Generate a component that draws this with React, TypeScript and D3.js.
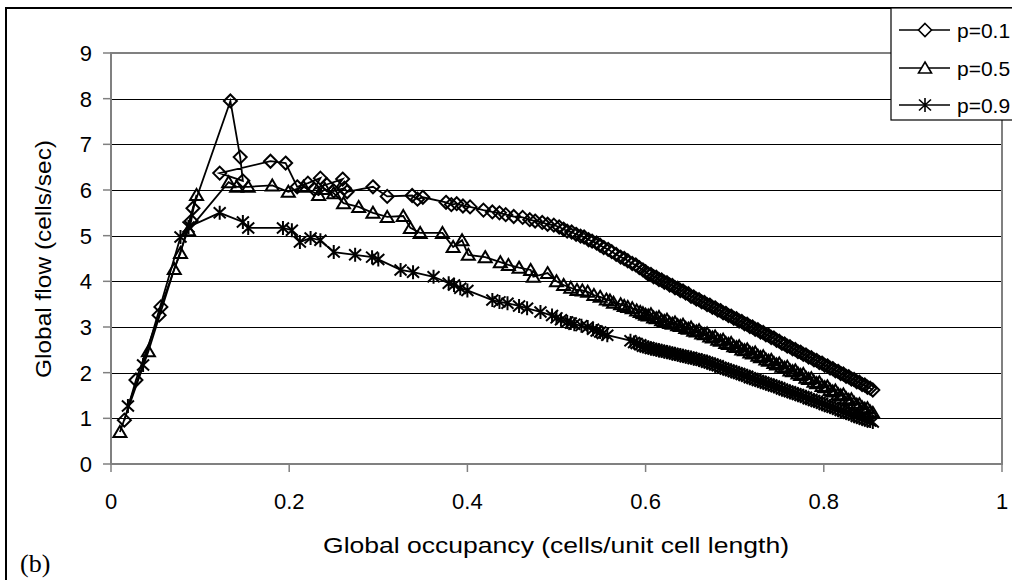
import React from 'react'
import * as d3 from 'd3'

// global occupancy (x) vs global flow (y): sparse part of each run as [x, y] pairs
const p01Head: [number, number][] = [
  [0.015, 0.96], [0.028, 1.84], [0.054, 3.26], [0.056, 3.44], [0.09, 5.32], [0.092, 5.6],
  [0.134, 7.95], [0.145, 6.72], [0.148, 6.2], [0.122, 6.37], [0.179, 6.63], [0.196, 6.59],
  [0.209, 6.07], [0.221, 6.15], [0.235, 6.26], [0.228, 6.02], [0.242, 6.12], [0.26, 6.24],
  [0.25, 5.98], [0.262, 6.04], [0.265, 5.96], [0.294, 6.07], [0.31, 5.86], [0.338, 5.88],
  [0.344, 5.8], [0.35, 5.84], [0.376, 5.73], [0.382, 5.68], [0.388, 5.7], [0.395, 5.65],
  [0.403, 5.63], [0.418, 5.56], [0.428, 5.52], [0.436, 5.5], [0.443, 5.46], [0.452, 5.42],
  [0.462, 5.4], [0.47, 5.35], [0.476, 5.32], [0.484, 5.29], [0.49, 5.25], [0.497, 5.23],
  [0.503, 5.19], [0.508, 5.14], [0.512, 5.1], [0.517, 5.08], [0.522, 5.03], [0.527, 4.99],
  [0.531, 4.97], [0.536, 4.91], [0.54, 4.88], [0.545, 4.84], [0.549, 4.79], [0.553, 4.74],
  [0.558, 4.7], [0.562, 4.65], [0.567, 4.59], [0.572, 4.53], [0.576, 4.5], [0.58, 4.45],
  [0.585, 4.39], [0.589, 4.36], [0.593, 4.3], [0.597, 4.25],
]

const p05Head: [number, number][] = [
  [0.01, 0.7], [0.042, 2.47], [0.071, 4.27], [0.078, 4.62], [0.096, 5.89], [0.087, 5.12],
  [0.132, 6.17], [0.141, 6.07], [0.154, 6.07], [0.181, 6.1], [0.199, 5.96], [0.216, 6.07],
  [0.233, 5.89], [0.24, 6.02], [0.25, 5.93], [0.261, 5.71], [0.278, 5.63], [0.294, 5.5],
  [0.31, 5.41], [0.328, 5.43], [0.336, 5.17], [0.347, 5.06], [0.372, 5.06], [0.384, 4.75],
  [0.394, 4.9], [0.401, 4.58], [0.42, 4.53], [0.437, 4.42], [0.446, 4.36], [0.458, 4.3],
  [0.471, 4.25], [0.474, 4.1], [0.49, 4.18], [0.5, 4.0], [0.508, 3.92], [0.516, 3.86],
  [0.523, 3.81], [0.529, 3.8], [0.535, 3.77], [0.542, 3.7], [0.549, 3.66], [0.556, 3.6],
  [0.56, 3.58], [0.564, 3.53], [0.572, 3.5], [0.576, 3.46], [0.58, 3.44], [0.585, 3.41],
  [0.59, 3.36], [0.594, 3.33], [0.597, 3.3],
]

const p09Head: [number, number][] = [
  [0.019, 1.27], [0.036, 2.17], [0.078, 4.97], [0.087, 5.19], [0.122, 5.5], [0.148, 5.3],
  [0.154, 5.17], [0.193, 5.17], [0.203, 5.12], [0.212, 4.86], [0.224, 4.95], [0.235, 4.9],
  [0.25, 4.64], [0.274, 4.58], [0.293, 4.53], [0.3, 4.48], [0.325, 4.25], [0.339, 4.2],
  [0.362, 4.1], [0.379, 3.96], [0.385, 3.92], [0.392, 3.85], [0.4, 3.8], [0.428, 3.59],
  [0.436, 3.55], [0.445, 3.52], [0.458, 3.46], [0.467, 3.41], [0.482, 3.33], [0.495, 3.25],
  [0.5, 3.2], [0.505, 3.16], [0.512, 3.11], [0.516, 3.09], [0.52, 3.06], [0.528, 3.03],
  [0.535, 3.0], [0.541, 2.95], [0.545, 2.91], [0.549, 2.89], [0.552, 2.86], [0.557, 2.82],
  [0.583, 2.7], [0.587, 2.66], [0.59, 2.64], [0.594, 2.61], [0.597, 2.58],
]

// dense part of each run: shared occupancy steps, then flow per series
const tailOcc = [
  0.6, 0.603, 0.606, 0.609, 0.612, 0.615, 0.618, 0.621, 0.624, 0.627,
  0.63, 0.633, 0.636, 0.639, 0.642, 0.645, 0.648, 0.651, 0.654, 0.657,
  0.66, 0.663, 0.666, 0.669, 0.672, 0.675, 0.678, 0.681, 0.684, 0.687,
  0.69, 0.693, 0.696, 0.699, 0.702, 0.705, 0.708, 0.711, 0.714, 0.717,
  0.72, 0.723, 0.726, 0.729, 0.732, 0.735, 0.738, 0.741, 0.744, 0.747,
  0.75, 0.753, 0.756, 0.759, 0.762, 0.765, 0.768, 0.771, 0.774, 0.777,
  0.78, 0.783, 0.786, 0.789, 0.792, 0.795, 0.798, 0.801, 0.804, 0.807,
  0.81, 0.813, 0.816, 0.819, 0.822, 0.825, 0.828, 0.831, 0.834, 0.837,
  0.84, 0.843, 0.846, 0.849, 0.852, 0.855,
]

const p01Tail = [
  4.21, 4.16, 4.15, 4.1, 4.09, 4.04, 4.03, 3.98, 3.97, 3.92,
  3.91, 3.86, 3.85, 3.8, 3.79, 3.74, 3.73, 3.67, 3.66, 3.61,
  3.6, 3.55, 3.54, 3.49, 3.48, 3.43, 3.42, 3.37, 3.36, 3.31,
  3.3, 3.25, 3.24, 3.19, 3.18, 3.13, 3.12, 3.07, 3.06, 3.01,
  3.0, 2.95, 2.94, 2.89, 2.88, 2.83, 2.82, 2.77, 2.76, 2.71,
  2.69, 2.64, 2.63, 2.58, 2.57, 2.52, 2.51, 2.46, 2.45, 2.4,
  2.39, 2.34, 2.33, 2.28, 2.27, 2.22, 2.21, 2.16, 2.15, 2.1,
  2.09, 2.04, 2.03, 1.98, 1.97, 1.92, 1.91, 1.86, 1.85, 1.8,
  1.79, 1.74, 1.73, 1.68, 1.66, 1.62,
]

const p05Tail = [
  3.27, 3.25, 3.28, 3.21, 3.19, 3.22, 3.15, 3.13, 3.16, 3.09,
  3.07, 3.1, 3.04, 3.02, 3.05, 2.98, 2.96, 2.99, 2.92, 2.9,
  2.93, 2.86, 2.84, 2.86, 2.79, 2.77, 2.79, 2.72, 2.7, 2.72,
  2.65, 2.63, 2.65, 2.58, 2.56, 2.58, 2.51, 2.49, 2.51, 2.44,
  2.42, 2.44, 2.37, 2.34, 2.36, 2.29, 2.26, 2.28, 2.21, 2.18,
  2.2, 2.13, 2.11, 2.13, 2.05, 2.03, 2.05, 1.98, 1.95, 1.97,
  1.89, 1.86, 1.88, 1.8, 1.77, 1.79, 1.71, 1.68, 1.7, 1.62,
  1.59, 1.61, 1.53, 1.5, 1.52, 1.44, 1.4, 1.42, 1.34, 1.3,
  1.31, 1.24, 1.21, 1.22, 1.15, 1.12,
]

const p09Tail = [
  2.56, 2.55, 2.53, 2.52, 2.5, 2.49, 2.48, 2.46, 2.45, 2.44,
  2.42, 2.41, 2.39, 2.38, 2.37, 2.35, 2.34, 2.33, 2.31, 2.3,
  2.28, 2.27, 2.25, 2.23, 2.21, 2.19, 2.17, 2.15, 2.12, 2.1,
  2.08, 2.06, 2.04, 2.02, 2.0, 1.98, 1.96, 1.94, 1.92, 1.89,
  1.87, 1.85, 1.83, 1.81, 1.79, 1.77, 1.75, 1.73, 1.71, 1.69,
  1.67, 1.64, 1.62, 1.6, 1.58, 1.56, 1.54, 1.52, 1.5, 1.48,
  1.46, 1.43, 1.41, 1.39, 1.37, 1.35, 1.33, 1.3, 1.28, 1.26,
  1.24, 1.22, 1.2, 1.17, 1.15, 1.13, 1.11, 1.09, 1.07, 1.04,
  1.02, 1.0, 0.98, 0.96, 0.94, 0.92,
]

const seriesNames = ['p=0.1', 'p=0.5', 'p=0.9']
const xTicks = [0, 0.2, 0.4, 0.6, 0.8, 1]
const yTicks = [0, 1, 2, 3, 4, 5, 6, 7, 8, 9]

const joinRun = (head: [number, number][], tail: number[]) =>
  head.concat(d3.zip(tailOcc, tail) as [number, number][])

const seriesData = [joinRun(p01Head, p01Tail), joinRun(p05Head, p05Tail), joinRun(p09Head, p09Tail)]

const W = 1012
const H = 580
const font = '"Liberation Sans", Arial, sans-serif'

// marker outlines, drawn around (0,0)
const markerPath = (kind: number) => {
  if (kind === 0) return 'M0,-6.5L6.5,0L0,6.5L-6.5,0Z'
  if (kind === 1) return 'M0,-6L6.5,5L-6.5,5Z'
  return 'M0,-7V7M-6,-5.5L6,5.5M-6,5.5L6,-5.5'
}

const Marker = ({ kind, x, y, fill, sw }: { kind: number; x: number; y: number; fill: string; sw: number }) => (
  <path
    d={markerPath(kind)}
    transform={`translate(${x},${y})`}
    fill={kind === 2 ? 'none' : fill}
    stroke="#000"
    strokeWidth={sw}
  />
)

const App = () => {
  const x = d3.scaleLinear().domain([0, 1]).range([111, 1002])
  const y = d3.scaleLinear().domain([0, 9]).range([464, 53])
  const line = d3.line<[number, number]>().x(d => x(d[0])).y(d => y(d[1]))

  const x0 = x(0), x1 = x(1), y0 = y(0), y9 = y(9)

  return (
    <svg width={W} height={H} style={{ position: 'absolute', left: 0, top: 0, background: '#fff' }}>
      <rect x={0} y={0} width={W} height={H} fill="#fff" />
      {/* outer frame */}
      <rect x={6} y={8} width={W + 20} height={H + 20} fill="none" stroke="#000" strokeWidth={2} />

      {/* gridlines */}
      {yTicks.filter(t => t > 0 && t < 9).map(t => (
        <line key={t} x1={x0} x2={x1} y1={Math.round(y(t)) + 0.5} y2={Math.round(y(t)) + 0.5}
          stroke="#000" strokeWidth={1} />
      ))}
      {/* plot area border / axes */}
      <rect x={x0} y={y9} width={x1 - x0} height={y0 - y9} fill="none" stroke="#808080" strokeWidth={2} />

      {/* y ticks */}
      {yTicks.map(t => (
        <g key={t}>
          <line x1={x0 - 8} x2={x0} y1={y(t)} y2={y(t)} stroke="#808080" strokeWidth={1.5} />
          <text x={92} y={y(t)} dy="0.36em" textAnchor="end" fontFamily={font} fontSize={22}>{t}</text>
        </g>
      ))}
      {/* x ticks */}
      {xTicks.map(t => (
        <g key={t}>
          <line x1={x(t)} x2={x(t)} y1={y0} y2={y0 + 8} stroke="#808080" strokeWidth={1.5} />
          <text x={x(t)} y={509} textAnchor="middle" fontFamily={font} fontSize={22}>{t}</text>
        </g>
      ))}

      {/* series */}
      {seriesData.map((data, i) => (
        <g key={i}>
          <path d={line(data) || ''} fill="none" stroke="#000" strokeWidth={1.8} />
          {data.map((d, j) => <Marker key={j} kind={i} x={x(d[0])} y={y(d[1])} fill="none" sw={2} />)}
        </g>
      ))}

      {/* axis titles */}
      <text x={556} y={553} textAnchor="middle" fontFamily={font} fontSize={22}
        textLength={466} lengthAdjust="spacingAndGlyphs">Global occupancy (cells/unit cell length)</text>
      <text transform="translate(51,259) rotate(-90)" textAnchor="middle" fontFamily={font} fontSize={22}
        textLength={238} lengthAdjust="spacingAndGlyphs">Global flow (cells/sec)</text>
      <text x={20} y={572} fontFamily='"Liberation Serif", "Times New Roman", serif' fontSize={26}>(b)</text>

      {/* legend */}
      <rect x={891} y={8} width={140} height={112} fill="#fff" stroke="#000" strokeWidth={1.2} />
      {seriesNames.map((name, i) => {
        const ly = [30, 68, 105][i]
        return (
          <g key={name}>
            <line x1={899} x2={950} y1={ly} y2={ly} stroke="#000" strokeWidth={1.6} />
            <Marker kind={i} x={925} y={ly} fill="#fff" sw={1.6} />
            <text x={957} y={ly} dy="0.36em" fontFamily={font} fontSize={21}>{name}</text>
          </g>
        )
      })}
    </svg>
  )
}

export default App
